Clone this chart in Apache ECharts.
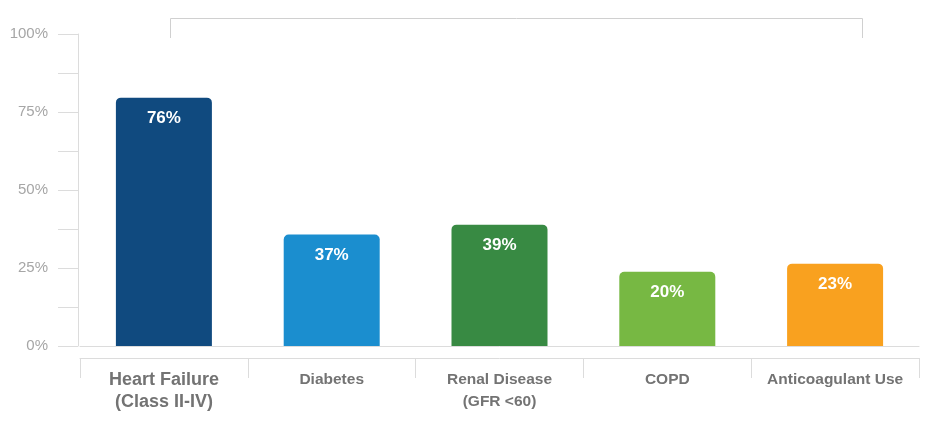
<!DOCTYPE html>
<html>
<head>
<meta charset="utf-8">
<script src="https://cdn.jsdelivr.net/npm/echarts@6/dist/echarts.min.js"></script>
<style>
  html, body { margin: 0; padding: 0; background: #ffffff; }
  #chart { width: 940px; height: 425px; }
</style>
</head>
<body>
<div id="chart"></div>
<script>
// ---- data ----
var categories = ['Heart Failure\n(Class II-IV)', 'Diabetes', 'Renal Disease\n(GFR <60)', 'COPD', 'Anticoagulant Use'];
// bar heights as drawn (percent of the axis)
var barValues = [79.6, 35.7, 38.9, 23.8, 26.4];
// percentages printed on the bars
var barLabels = ['76%', '37%', '39%', '20%', '23%'];
var barColors = ['#104a7f', '#1b8ecf', '#388a43', '#77b843', '#f9a11f'];
var yTickLabels = ['0%', '25%', '50%', '75%', '100%'];

var chart = echarts.init(document.getElementById('chart'), null, { renderer: 'canvas' });
var FONT = '"Liberation Sans", Arial, sans-serif';

var option = {
  animation: false,
  backgroundColor: '#ffffff',
  grid: { left: 80, right: 21, top: 34, bottom: 79, containLabel: false },
  xAxis: [
    {
      type: 'category',
      data: categories,
      position: 'bottom',
      axisLine: { show: true, lineStyle: { color: '#dcdcdc', width: 1 } },
      axisTick: { show: false },
      axisLabel: { show: false },
      splitLine: { show: false }
    },
    {
      type: 'category',
      data: categories,
      position: 'bottom',
      offset: 12,
      axisLine: { show: true, lineStyle: { color: '#dcdcdc', width: 1 } },
      axisTick: { show: true, length: 20, inside: false, lineStyle: { color: '#dcdcdc', width: 1 } },
      axisLabel: {
        margin: 11,
        interval: 0,
        fontFamily: FONT,
        formatter: function (v, i) {
          var style = i === 0 ? 'big' : 'norm';
          return v.split('\n').map(function (s) { return '{' + style + '|' + s + '}'; }).join('\n');
        },
        rich: {
          big: { fontFamily: FONT, fontSize: 18, fontWeight: 'bold', color: '#737373', lineHeight: 22 },
          norm: { fontFamily: FONT, fontSize: 15.5, fontWeight: 'bold', color: '#737373', lineHeight: 22 }
        }
      },
      splitLine: { show: false }
    }
  ],
  yAxis: {
    type: 'value',
    min: 0,
    max: 100,
    interval: 12.5,
    offset: 2,
    axisLine: { show: true, lineStyle: { color: '#dcdcdc', width: 1 } },
    axisTick: { show: true, length: 20, inside: false, lineStyle: { color: '#dcdcdc', width: 1 } },
    splitLine: { show: false },
    axisLabel: {
      margin: 30,
      fontFamily: FONT,
      fontSize: 15,
      color: '#a6a6a6',
      formatter: function (v) {
        if (v % 25 !== 0) return '';
        return yTickLabels[v / 25];
      }
    }
  },
  graphic: [
    {
      type: 'polyline',
      shape: { points: [[170.5, 38], [170.5, 18.5], [862.5, 18.5], [862.5, 38]] },
      style: { stroke: '#d0d0d0', lineWidth: 1, fill: null }
    }
  ],
  series: [
    {
      type: 'bar',
      xAxisIndex: 0,
      barWidth: 96,
      data: barValues.map(function (v, i) {
        return { value: v, itemStyle: { color: barColors[i], borderRadius: [5, 5, 0, 0] } };
      }),
      label: {
        show: true,
        position: 'insideTop',
        distance: 12,
        fontFamily: FONT,
        fontSize: 17,
        fontWeight: 'bold',
        color: '#ffffff',
        formatter: function (p) { return barLabels[p.dataIndex]; }
      }
    }
  ]
};
chart.setOption(option);
</script>
</body>
</html>
